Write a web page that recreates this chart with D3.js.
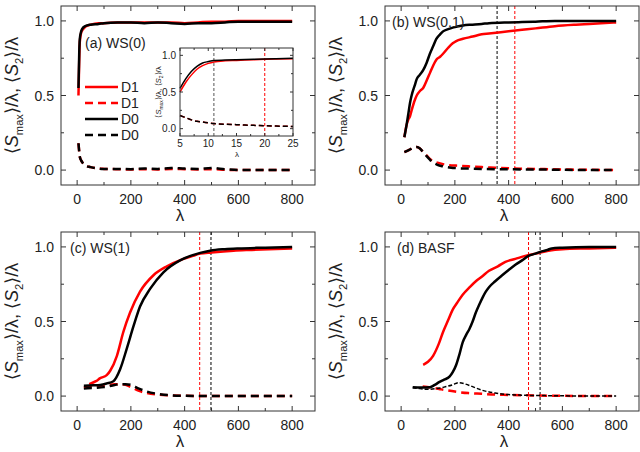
<!DOCTYPE html>
<html><head><meta charset="utf-8">
<script src="https://cdn.jsdelivr.net/npm/d3@7"></script>
<style>body{margin:0;background:#fff}svg{display:block}text{font-family:"Liberation Sans",Arial,sans-serif;fill:#222}</style>
</head><body><svg id="c" width="640" height="452"></svg>
<script>
// ---------- data ----------
const xTicksMain = [0,200,400,600,800];
const yTicksMain = [0.0,0.5,1.0];
const legendLabels = ["D1","D1","D0","D0"];
const panelTitles = ["(a) WS(0)","(b) WS(0.1)","(c) WS(1)","(d) BASF"];

// Panel a
const aLam  = [5,8,10,15,20,30,50,80,100,150,200,250,300,350,400,450,500,550,600,700,800];
const aD1s  = [0.50,0.75,0.86,0.92,0.94,0.96,0.975,0.985,0.985,0.99,0.99,0.99,0.99,0.99,0.985,0.99,0.995,0.995,1.0,1.0,1.0];
const aD0s  = [0.55,0.80,0.88,0.93,0.95,0.965,0.975,0.98,0.985,0.99,0.99,0.985,0.99,0.985,0.98,0.985,0.985,0.99,0.995,0.995,0.995];
const aD1d  = [0.18,0.12,0.09,0.065,0.05,0.03,0.02,0.01,0.008,0.006,0.004,0.006,0.004,0.008,0.006,0.004,0.006,0.002,0.0,0.0,0.0];
const aD0d  = [0.18,0.12,0.09,0.065,0.05,0.03,0.02,0.01,0.008,0.008,0.006,0.01,0.008,0.014,0.01,0.008,0.014,0.006,0.0,0.0,0.0];
const aVlines = [];

// Inset of panel a
const inLam = [5,6,7,8,9,10,11,13,15,18,20,22,25];
const inD1s = [0.50,0.63,0.73,0.81,0.86,0.89,0.91,0.925,0.93,0.94,0.945,0.95,0.955];
const inD0s = [0.55,0.68,0.78,0.85,0.895,0.915,0.93,0.935,0.94,0.945,0.95,0.955,0.96];
const inD1d = [0.18,0.15,0.12,0.10,0.09,0.08,0.07,0.06,0.055,0.045,0.04,0.035,0.03];
const inD0d = [0.18,0.15,0.12,0.10,0.09,0.08,0.07,0.06,0.055,0.045,0.04,0.035,0.03];
const inXTicks = [5,10,15,20,25];
const inVlines = [11,20];

// Panel b
const bLamS = [12,20,27,33,39,51,58,70,82,95,107,119,131,145,156,175,192,205,230,266,300,327,400,450,500,572,650,700,800];
const bD0s  = [0.22,0.30,0.38,0.45,0.50,0.57,0.61,0.64,0.67,0.72,0.78,0.83,0.88,0.91,0.93,0.945,0.955,0.96,0.97,0.975,0.98,0.985,0.99,0.992,0.995,1.0,1.0,1.0,1.0];
const bD1s  = [0.22,0.30,0.34,0.36,0.40,0.47,0.50,0.53,0.55,0.60,0.65,0.70,0.74,0.76,0.78,0.82,0.85,0.865,0.88,0.895,0.91,0.915,0.93,0.94,0.95,0.965,0.975,0.98,0.99];
const bLamD = [12,30,45,58,70,82,94,107,119,135,156,180,205,250,300,350,400,500,600,700,800];
const bD0d  = [0.12,0.135,0.15,0.155,0.145,0.12,0.095,0.07,0.05,0.035,0.025,0.018,0.013,0.01,0.008,0.006,0.005,0.004,0.002,0.0,0.0];
const bD1d  = [0.12,0.135,0.15,0.155,0.145,0.12,0.10,0.075,0.06,0.05,0.04,0.033,0.03,0.025,0.02,0.016,0.012,0.008,0.004,0.002,0.0];
const bVlines = [{x:357,c:"#000"},{x:423,c:"#f00"}];

// Panel c
const cLam0 = [25,60,86,110,135,160,185,210,234,272,321,383,430,458,495,550,600,700,800];
const cD0s  = [0.07,0.072,0.075,0.085,0.10,0.18,0.32,0.47,0.60,0.72,0.83,0.91,0.945,0.96,0.975,0.985,0.99,0.995,1.0];
const cLam1 = [45,70,86,110,123,148,172,197,234,284,334,396,430,458,500,582,650,800];
const cD1s  = [0.08,0.10,0.12,0.14,0.17,0.27,0.43,0.56,0.70,0.81,0.87,0.92,0.94,0.955,0.963,0.975,0.98,0.99];
const cLamD = [25,60,100,140,160,180,200,230,260,300,350,400,500,600,700,800];
const cD0d  = [0.05,0.055,0.06,0.075,0.08,0.08,0.075,0.05,0.03,0.015,0.005,0.002,0.0,0.0,0.0,0.0];
const cD1d  = [0.06,0.065,0.07,0.08,0.08,0.075,0.06,0.035,0.02,0.01,0.005,0.002,0.0,0.0,0.0,0.0];
const cVlines = [{x:456,c:"#f00"},{x:498,c:"#000"}];

// Panel d
const dLam0 = [43,75,107,125,143,160,180,192,205,217,229,242,254,266,278,290,303,315,327,350,376,400,425,450,474,500,523,545,560,600,700,800];
const dD0s  = [0.06,0.058,0.06,0.075,0.095,0.11,0.13,0.16,0.21,0.28,0.36,0.41,0.45,0.50,0.56,0.61,0.66,0.70,0.73,0.77,0.81,0.845,0.88,0.91,0.94,0.955,0.97,0.98,0.99,0.995,1.0,1.0];
const dLam1 = [82,100,119,140,156,175,192,210,229,255,278,300,327,360,388,425,462,500,548,600,700,800];
const dD1s  = [0.21,0.23,0.27,0.35,0.43,0.51,0.58,0.63,0.68,0.73,0.77,0.80,0.84,0.87,0.90,0.92,0.94,0.955,0.975,0.985,0.99,0.995];
const dLamD0 = [43,70,100,130,160,190,215,240,270,300,350,400,450,500,600,700,800];
const dD0d   = [0.055,0.05,0.045,0.05,0.06,0.075,0.09,0.08,0.06,0.04,0.02,0.01,0.006,0.004,0.002,0.0,0.0];
const dLamD1 = [80,120,150,200,250,300,350,400,450,500,600,700,800];
const dD1d   = [0.065,0.055,0.045,0.03,0.02,0.015,0.01,0.008,0.006,0.004,0.002,0.0,0.0];
const dVlines = [{x:474,c:"#f00"},{x:517,c:"#000"}];

// ---------- drawing ----------
const svg = d3.select("#c");
const RED = "#f00", BLK = "#000";
const W = 254, H = 179;

function zip(xs, ys){ return xs.map((x,i)=>[x, ys[i]]); }

function yLabel(g, x, y, size){
  const t = g.append("text").attr("transform",`translate(${x},${y}) rotate(-90)`)
    .attr("text-anchor","middle").style("font-size",size+"px");
  const sub = size*0.62, shift = size*0.28;
  t.append("tspan").text("\u27E8");
  t.append("tspan").text("S").style("font-style","italic");
  t.append("tspan").text("max").style("font-size",sub+"px").attr("dy",shift);
  t.append("tspan").text("\u27E9/\u03BB, \u27E8").attr("dy",-shift);
  t.append("tspan").text("S").style("font-style","italic");
  t.append("tspan").text("2").style("font-size",sub+"px").attr("dy",shift);
  t.append("tspan").text("\u27E9/\u03BB").attr("dy",-shift);
}

function frameAndAxes(g, x, y, o){
  const [x0,x1] = x.range(), [y0,y1] = y.range();
  const major = o.major, minor = o.minor;
  o.xMinor.forEach(v=>{
    const L = o.xTicks.includes(v) ? major : minor;
    g.append("line").attr("x1",x(v)).attr("x2",x(v)).attr("y1",y0).attr("y2",y0-L).attr("stroke","#333");
    g.append("line").attr("x1",x(v)).attr("x2",x(v)).attr("y1",y1).attr("y2",y1+L).attr("stroke","#333");
  });
  o.yMinor.forEach(v=>{
    const L = o.yTicks.includes(v) ? major : minor;
    g.append("line").attr("y1",y(v)).attr("y2",y(v)).attr("x1",x0).attr("x2",x0+L).attr("stroke","#333");
    g.append("line").attr("y1",y(v)).attr("y2",y(v)).attr("x1",x1).attr("x2",x1-L).attr("stroke","#333");
  });
  o.xTicks.forEach(v=>{
    g.append("text").attr("x",x(v)).attr("y",y0+o.xLabOff).attr("text-anchor","middle")
      .style("font-size",o.fs+"px").text(v);
  });
  o.yTicks.forEach(v=>{
    g.append("text").attr("x",x0-o.yLabOff).attr("y",y(v)+o.fs*0.36).attr("text-anchor","end")
      .style("font-size",o.fs+"px").text(d3.format(".1f")(v));
  });
  g.append("rect").attr("x",x0).attr("y",y1).attr("width",x1-x0).attr("height",y0-y1)
    .attr("fill","none").attr("stroke","#333").attr("stroke-width",1);
}

function curve(g, x, y, pts, color, width, dash){
  const line = d3.line().x(d=>x(d[0])).y(d=>y(d[1])).curve(d3.curveMonotoneX);
  const p = g.append("path").attr("d",line(pts)).attr("fill","none").attr("stroke",color)
    .attr("stroke-width",width).attr("stroke-linejoin","round");
  if (dash) p.attr("stroke-dasharray",dash);
  return p;
}

function panel(left, top, idx, series, vlines){
  const g = svg.append("g");
  const x = d3.scaleLinear().domain([-60,885]).range([left, left+W]);
  const y = d3.scaleLinear().domain([-0.1,1.1]).range([top+H, top]);
  const clip = "clip"+idx;
  svg.append("clipPath").attr("id",clip).append("rect").attr("x",left).attr("y",top).attr("width",W).attr("height",H);
  const pg = g.append("g").attr("clip-path",`url(#${clip})`);
  vlines.forEach(v=>{
    pg.append("line").attr("x1",x(v.x)).attr("x2",x(v.x)).attr("y1",top).attr("y2",top+H)
      .attr("stroke",v.c).attr("stroke-width",1).attr("stroke-dasharray","3,2");
  });
  series.forEach(s=>curve(pg, x, y, s.pts, s.c, s.w, s.dash));
  frameAndAxes(g, x, y, {xTicks:xTicksMain, yTicks:yTicksMain,
    xMinor:d3.range(0,801,100), yMinor:[0,0.25,0.5,0.75,1.0],
    major:5, minor:3, fs:14, xLabOff:19, yLabOff:7});
  yLabel(g, left-43, top+H/2, 18);
  g.append("text").attr("x",(left+left+W)/2-8).attr("y",top+H+36).attr("text-anchor","middle")
    .style("font-size","17px").text("\u03BB");
  const tp = [[85,48],[392,27],[70,253],[397,253]][idx];
  g.append("text").attr("x",tp[0]).attr("y",tp[1]).style("font-size","14px").text(panelTitles[idx]);
  return {g,x,y};
}

const DASH = "8,5";
// (a)
const pa = panel(61,6,0,[
  {pts:zip(aLam,aD1d), c:RED, w:2.5, dash:DASH},
  {pts:zip(aLam,aD0d), c:BLK, w:2.5, dash:DASH},
  {pts:zip(aLam,aD1s), c:RED, w:2.5},
  {pts:zip(aLam,aD0s), c:BLK, w:2.5}
], aVlines);
// legend
const legStyles = [{c:RED,dash:null},{c:RED,dash:DASH},{c:BLK,dash:null},{c:BLK,dash:DASH}];
const legY = [87,103,119,135];
legendLabels.forEach((lab,i)=>{
  const l = pa.g.append("line").attr("x1",85).attr("x2",118).attr("y1",legY[i]).attr("y2",legY[i])
    .attr("stroke",legStyles[i].c).attr("stroke-width",2.5);
  if (legStyles[i].dash) l.attr("stroke-dasharray",DASH);
  pa.g.append("text").attr("x",121).attr("y",legY[i]+5).style("font-size","14px").text(lab);
});
// inset
{
  const g = svg.append("g");
  const x = d3.scaleLinear().domain([5,25]).range([180,293]);
  const y = d3.scaleLinear().domain([-0.1,1.1]).range([136,48]);
  g.append("rect").attr("x",180).attr("y",48).attr("width",113).attr("height",88).attr("fill","#fff");
  inVlines.forEach((v,i)=>{
    g.append("line").attr("x1",x(v)).attr("x2",x(v)).attr("y1",48).attr("y2",136)
      .attr("stroke",i===0?"#555":RED).attr("stroke-width",1).attr("stroke-dasharray","3,2");
  });
  curve(g,x,y,zip(inLam,inD1d),RED,1.5,"5,3");
  curve(g,x,y,zip(inLam,inD0d),BLK,1.5,"5,3");
  curve(g,x,y,zip(inLam,inD1s),RED,1.5);
  curve(g,x,y,zip(inLam,inD0s),BLK,1.5);
  frameAndAxes(g,x,y,{xTicks:inXTicks, yTicks:yTicksMain,
    xMinor:d3.range(5,26,2.5), yMinor:[0,0.25,0.5,0.75,1.0],
    major:3, minor:2, fs:10, xLabOff:11, yLabOff:4});
  yLabel(g, 161, 92, 8);
  g.append("text").attr("x",237).attr("y",157).attr("text-anchor","middle").style("font-size","8px").text("\u03BB");
}
// (b)
panel(385,6,1,[
  {pts:zip(bLamD,bD1d), c:RED, w:2.5, dash:DASH},
  {pts:zip(bLamD,bD0d), c:BLK, w:2.5, dash:DASH},
  {pts:zip(bLamS,bD1s), c:RED, w:2.5},
  {pts:zip(bLamS,bD0s), c:BLK, w:2.5}
], bVlines);
// (c)
panel(61,232,2,[
  {pts:zip(cLamD,cD1d), c:RED, w:2.5, dash:DASH},
  {pts:zip(cLamD,cD0d), c:BLK, w:2.5, dash:DASH},
  {pts:zip(cLam1,cD1s), c:RED, w:2.5},
  {pts:zip(cLam0,cD0s), c:BLK, w:2.5}
], cVlines);
// (d)
panel(385,232,3,[
  {pts:zip(dLamD1,dD1d), c:RED, w:2.5, dash:DASH},
  {pts:zip(dLamD0,dD0d), c:BLK, w:1.5, dash:"4,2"},
  {pts:zip(dLam1,dD1s), c:RED, w:2.5},
  {pts:zip(dLam0,dD0s), c:BLK, w:2.5}
], dVlines);
</script></body></html>
